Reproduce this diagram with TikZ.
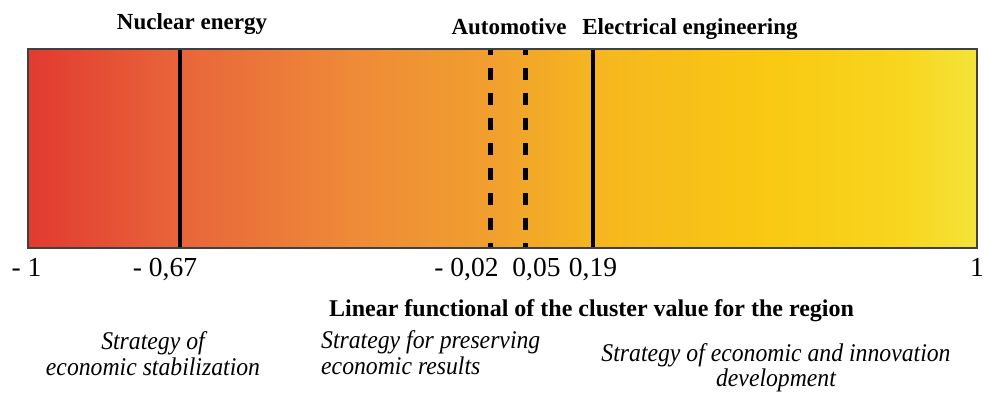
\documentclass[tikz,border=0pt]{standalone}
\usepackage{fontspec}
\setmainfont{Liberation Serif}
\usepackage{graphicx}
\newcommand{\narrowtxt}[1]{\scalebox{0.93}[1]{#1}}
\definecolor{c0}{HTML}{E23A30}
\definecolor{c1}{HTML}{E8653A}
\definecolor{c2}{HTML}{EE8A38}
\definecolor{c3}{HTML}{F19F2E}
\definecolor{c4}{HTML}{F5B620}
\definecolor{c5}{HTML}{F9C812}
\definecolor{c6}{HTML}{F8D51E}
\definecolor{c7}{HTML}{F4E43A}
\pgfdeclarehorizontalshading{barshade}{100bp}{%
  color(0bp)=(c0); color(25bp)=(c0); color(33.01bp)=(c1); color(41.97bp)=(c2);
  color(49.34bp)=(c3); color(54.77bp)=(c4); color(63.57bp)=(c5); color(70.94bp)=(c6);
  color(75bp)=(c7); color(100bp)=(c7)}
\tikzset{
  toplabel/.style={font=\fontsize{23}{27}\selectfont\bfseries, anchor=base, inner sep=0pt},
  numlabel/.style={font=\fontsize{27.5}{32}\selectfont, anchor=base, inner sep=0pt},
  axislabel/.style={font=\fontsize{24}{28}\selectfont\bfseries, anchor=base, inner sep=0pt},
  stratlabel/.style={font=\fontsize{25.5}{28}\selectfont\itshape, anchor=base, inner sep=0pt},
  solidmark/.style={line width=4.5pt, black},
  dashmark/.style={line width=5pt, black, dash pattern=on 12pt off 13pt, dash phase=6pt},
  barborder/.style={draw=black!75, line width=1.3pt}
}
\begin{document}
\begin{tikzpicture}[x=1pt,y=-1pt]
\useasboundingbox (0,0) rectangle (985,392);
% bar
\coordinate (barTL) at (28,49);
\coordinate (barBR) at (977,248);
\shade[shading=barshade] (barTL) rectangle (barBR);
% marks
\coordinate (m1t) at (180,49);  \coordinate (m1b) at (180,248);
\coordinate (m2t) at (490,49);  \coordinate (m2b) at (490,248);
\coordinate (m3t) at (525,49);  \coordinate (m3b) at (525,248);
\coordinate (m4t) at (593,49);  \coordinate (m4b) at (593,248);
\draw[solidmark] (m1t) -- (m1b);
\draw[dashmark] (m2t) -- (m2b);
\draw[dashmark] (m3t) -- (m3b);
\draw[solidmark] (m4t) -- (m4b);
\draw[barborder] (barTL) rectangle (barBR);
% top labels
\node[toplabel] (nuc) at (192,29) {Nuclear energy};
\node[toplabel] (auto) at (509,34) {Automotive};
\node[toplabel] (elec) at (690,34) {Electrical engineering};
% numbers
\node[numlabel] (nA) at (26.5,276) {- 1};
\node[numlabel] (nB) at (165,276) {- 0,67};
\node[numlabel] (nC) at (466.5,276) {- 0,02};
\node[numlabel] (nD) at (536.5,276) {0,05};
\node[numlabel] (nE) at (593,276) {0,19};
\node[numlabel] (nF) at (977,276) {1};
% axis label
\node[axislabel] (axis) at (591.5,316) {Linear functional of the cluster value for the region};
% strategies
\node[stratlabel] (s1a) at (153,349) {\narrowtxt{Strategy of}};
\node[stratlabel] (s1b) at (153,375) {\narrowtxt{economic stabilization}};
\node[stratlabel, anchor=base west] (s2a) at (321,348) {\narrowtxt{Strategy for preserving}};
\node[stratlabel, anchor=base west] (s2b) at (321,374) {\narrowtxt{economic results}};
\node[stratlabel] (s3a) at (776,361) {\narrowtxt{Strategy of economic and innovation}};
\node[stratlabel] (s3b) at (776,386) {\narrowtxt{development}};
\end{tikzpicture}
\end{document}
